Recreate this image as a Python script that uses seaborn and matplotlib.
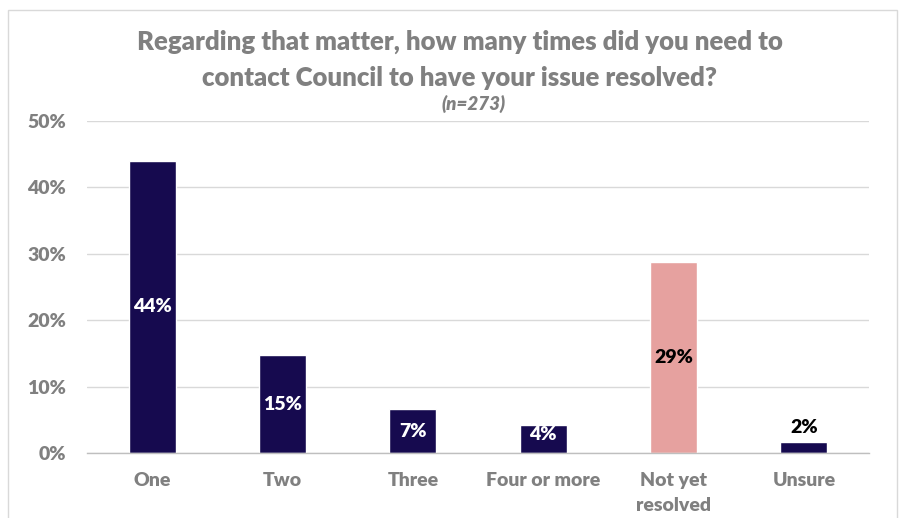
import matplotlib
matplotlib.use("Agg")
import matplotlib.pyplot as plt
from matplotlib.patches import Rectangle
from matplotlib.ticker import FixedLocator, PercentFormatter
import seaborn as sns

categories = ["One", "Two", "Three", "Four or more", "Not yet\nresolved", "Unsure"]
shares = [44.0, 14.7, 6.6, 4.2, 28.8, 1.7]
bar_colors = ["#160a4f", "#160a4f", "#160a4f", "#160a4f", "#e6a19f", "#160a4f"]
label_colors = ["white", "white", "white", "white", "black", "black"]
y_ticks = [0, 10, 20, 30, 40, 50]

title_lines = "Regarding that matter, how many times did you need to\ncontact Council to have your issue resolved?"
subtitle = "(n=273)"

sns.set_theme(style="white")
plt.rcParams["font.family"] = ["Lato", "DejaVu Sans"]

GRAY = "#808080"
FS = 14
WEIGHT = "heavy"

fig = plt.figure(figsize=(8.99, 5.18), dpi=100)
ax = fig.add_axes([87 / 899, 1 - 453 / 518, (869 - 87) / 899, (453 - 121) / 518])

# chart frame
fig.patches.append(Rectangle((8 / 899, -0.01), (897 - 8) / 899, (518 - 10) / 518 + 0.01,
                             transform=fig.transFigure, fill=False,
                             edgecolor="#d9d9d9", linewidth=1.0, zorder=0))

sns.barplot(x=categories, y=shares, hue=categories, palette=bar_colors,
            legend=False, width=0.36, saturation=1, ax=ax, zorder=3)

ax.set_xlim(-0.5, len(categories) - 0.5)
ax.set_ylim(0, 50)
ax.set_yticks(y_ticks)
ax.yaxis.set_major_formatter(PercentFormatter(decimals=0))
ax.grid(axis="y", color="#d9d9d9", linewidth=1.0, zorder=0)
ax.set_axisbelow(True)

for side in ["left", "right", "top"]:
    ax.spines[side].set_visible(False)
ax.spines["bottom"].set_color("#bfbfbf")
ax.spines["bottom"].set_linewidth(1.0)
ax.spines["bottom"].set_zorder(4)

ax.tick_params(axis="x", which="major", length=0, pad=14)
ax.xaxis.set_minor_locator(FixedLocator([i - 0.5 for i in range(len(categories) + 1)]))
ax.tick_params(axis="x", which="minor", length=6, color="#bfbfbf", width=1.0)
ax.tick_params(axis="y", length=0, pad=15)
for lbl in ax.get_xticklabels() + ax.get_yticklabels():
    lbl.set_fontweight(WEIGHT)
    lbl.set_color(GRAY)
    lbl.set_fontsize(FS)
for lbl in ax.get_xticklabels():
    lbl.set_linespacing(1.55)
    lbl.set_verticalalignment("top")

# value labels
for i, (v, c) in enumerate(zip(shares, label_colors)):
    if v < 3:
        ax.text(i, v + 0.8, f"{v:.0f}%", ha="center", va="bottom",
                color=c, fontsize=FS, fontweight=WEIGHT, zorder=5)
    else:
        y = max(v / 2, 2.8)
        ax.text(i, y, f"{v:.0f}%", ha="center", va="center",
                color=c, fontsize=FS, fontweight=WEIGHT, zorder=5)

fig.text(460 / 899, 1 - 60 / 518, title_lines, ha="center", va="center",
         fontsize=18.5, fontweight=WEIGHT, color=GRAY, linespacing=1.6)
fig.text(474 / 899, 1 - 104 / 518, subtitle, ha="center", va="center",
         fontsize=13.5, fontweight=WEIGHT, fontstyle="italic", color=GRAY)

fig.savefig("out.png", dpi=100)
